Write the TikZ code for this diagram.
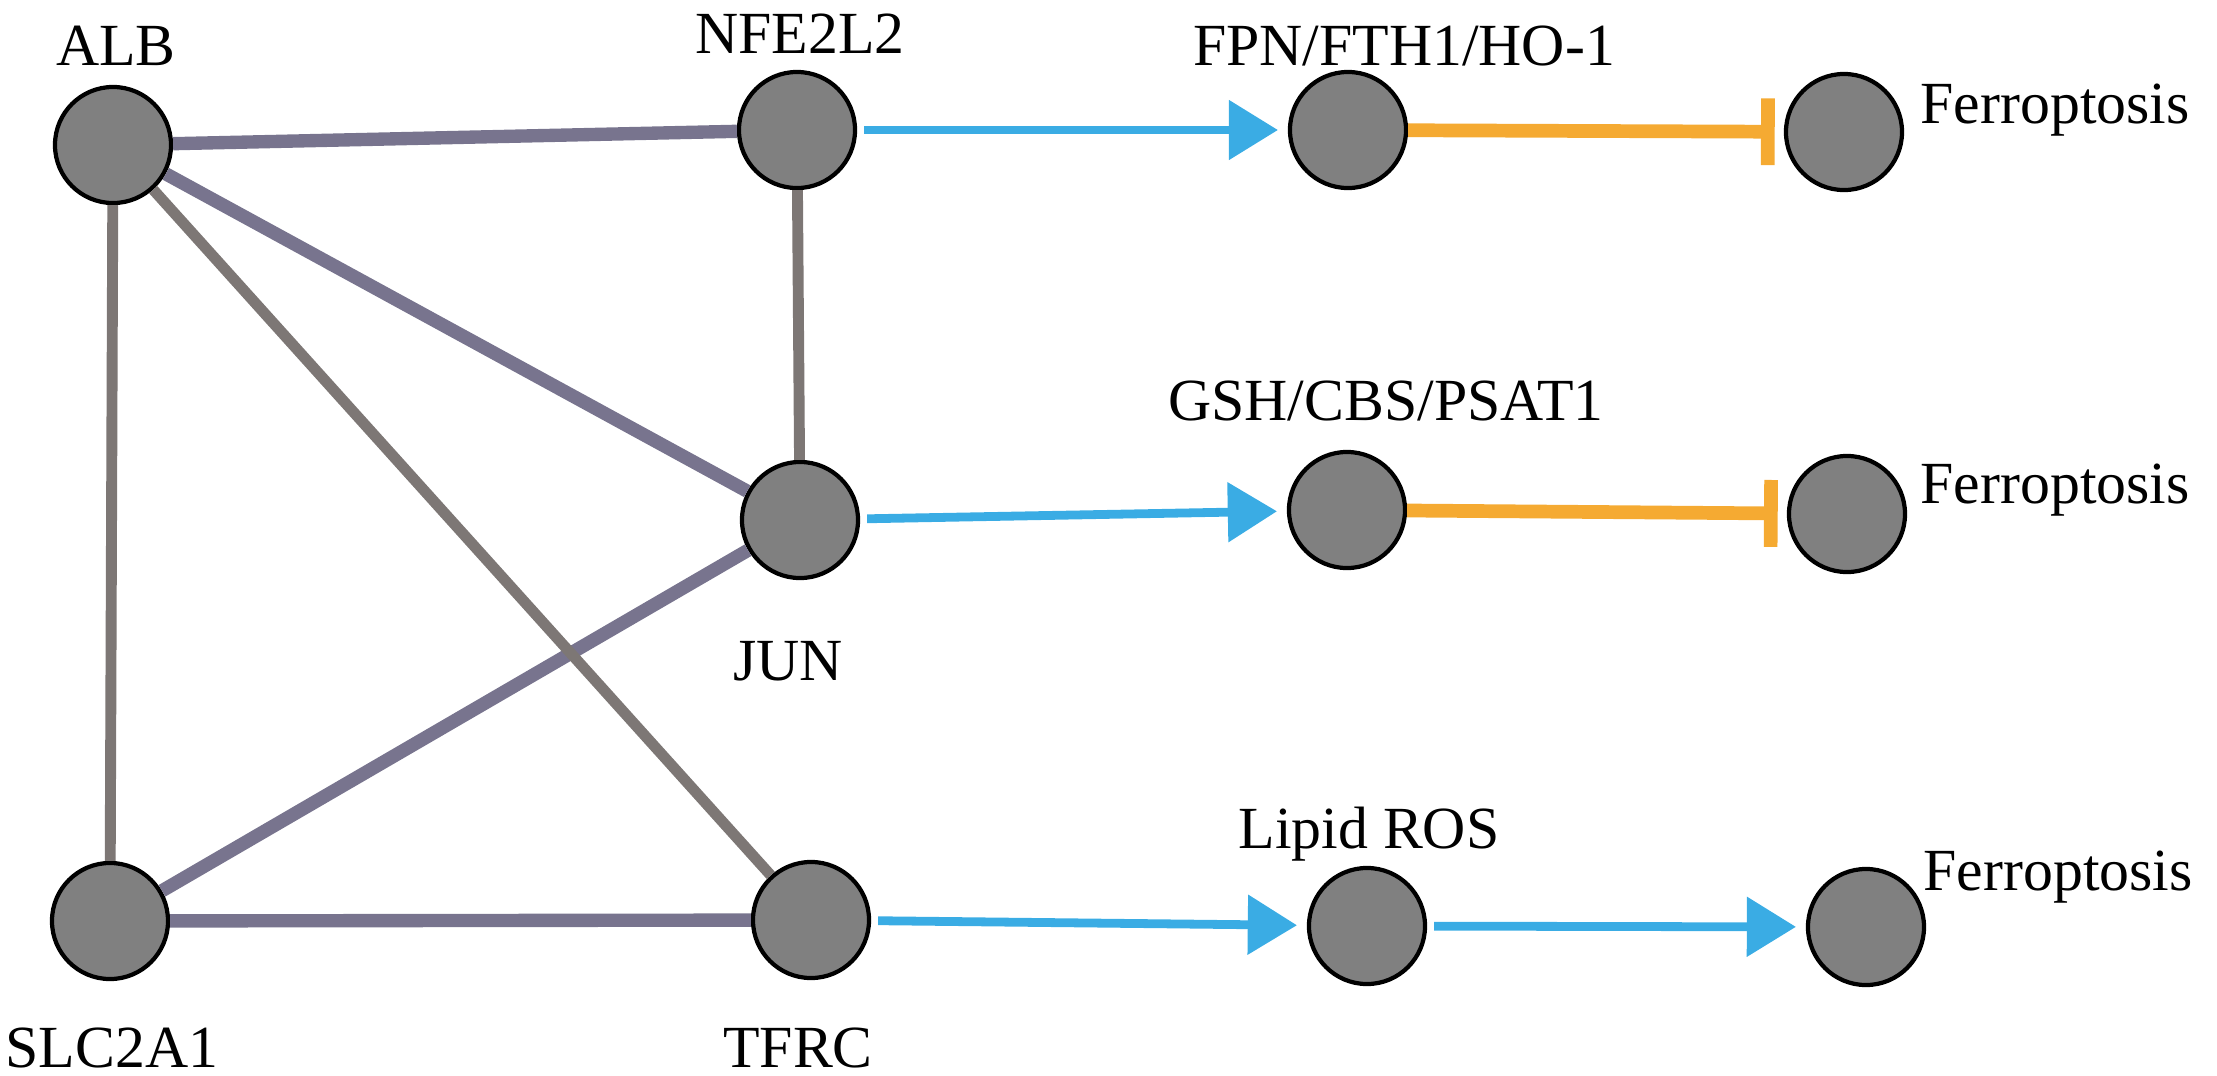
\documentclass[tikz,border=0pt]{standalone}
\usepackage{fontspec}
\setmainfont{Liberation Serif}
\newfontfamily\genefont{Liberation Serif}
\usepackage[usenames,dvipsnames]{xcolor}
\usetikzlibrary{arrows.meta}

\definecolor{NodeGray}{RGB}{128,128,128}
\definecolor{LinkViolet}{RGB}{120,116,142}
\definecolor{LinkGray}{RGB}{125,119,117}
\definecolor{ActBlue}{RGB}{58,172,228}
\definecolor{InhOrange}{RGB}{245,170,50}

\tikzset{
  VertexStyle/.style = {circle, draw=black, line width=1.2pt, fill=NodeGray,
                        minimum size=1.16cm, inner sep=0pt},
  LabelStyle/.style  = {anchor=base, inner sep=0pt,
                        font=\genefont\fontsize{17}{20}\selectfont},
  StrongEdge/.style  = {draw=LinkViolet, line width=3.8pt},
  WeakEdge/.style    = {draw=LinkGray, line width=3.1pt},
  ActEdge/.style     = {draw=ActBlue, line width=2.5pt,
                        -{Triangle[length=14pt,width=16.5pt]},
                        shorten <=2pt, shorten >=2.8pt},
  InhEdge/.style     = {draw=InhOrange, line width=3.9pt,
                        -{Bar[width=19pt,line width=3.9pt]},
                        shorten >=2.6pt}
}

\begin{document}
\begin{tikzpicture}[x=0.01cm, y=-0.01cm]
   \useasboundingbox (0,0) rectangle (2217,1075);
   \node[VertexStyle] (ALB)    at (113,145)  {};
   \node[VertexStyle] (NFE2L2) at (797,130)  {};
   \node[VertexStyle] (FPN)    at (1348,130) {};
   \node[VertexStyle] (FerA)   at (1844,132) {};
   \node[VertexStyle] (JUN)    at (800,520)  {};
   \node[VertexStyle] (GSH)    at (1347,510) {};
   \node[VertexStyle] (FerB)   at (1847,514) {};
   \node[VertexStyle] (SLC2A1) at (110,921)  {};
   \node[VertexStyle] (TFRC)   at (811,920)  {};
   \node[VertexStyle] (ROS)    at (1367,926) {};
   \node[VertexStyle] (FerC)   at (1866,927) {};

   \node[LabelStyle] (lALB)    at (116,65)   {ALB};
   \node[LabelStyle] (lNFE2L2) at (800,53)   {NFE2L2};
   \node[LabelStyle] (lFPN)    at (1404,65)  {FPN/FTH1/HO-1};
   \node[LabelStyle, anchor=base west] (lFerA) at (1920,123) {Ferroptosis};
   \node[LabelStyle] (lGSH)    at (1386,420) {GSH/CBS/PSAT1};
   \node[LabelStyle, anchor=base west] (lFerB) at (1920,503) {Ferroptosis};
   \node[LabelStyle] (lJUN)    at (788,680)  {JUN};
   \node[LabelStyle] (lROS)    at (1369,848) {Lipid ROS};
   \node[LabelStyle, anchor=base west] (lFerC) at (1923,890) {Ferroptosis};
   \node[LabelStyle] (lSLC2A1) at (112,1067) {SLC2A1};
   \node[LabelStyle] (lTFRC)   at (798,1067) {TFRC};

   \draw[StrongEdge] (ALB) -- (NFE2L2);
   \draw[StrongEdge] (ALB) -- (JUN);
   \draw[StrongEdge] (SLC2A1) -- (JUN);
   \draw[StrongEdge] (SLC2A1) -- (TFRC);
   \draw[WeakEdge] (ALB) -- (SLC2A1);
   \draw[WeakEdge] (ALB) -- (TFRC);
   \draw[WeakEdge] (NFE2L2) -- (JUN);

   \draw[ActEdge] (NFE2L2) -- (FPN);
   \draw[ActEdge] (JUN) -- (GSH);
   \draw[ActEdge] (TFRC) -- (ROS);
   \draw[ActEdge] (ROS) -- (FerC);
   \draw[InhEdge] (FPN) -- (FerA);
   \draw[InhEdge] (GSH) -- (FerB);
\end{tikzpicture}
\end{document}
